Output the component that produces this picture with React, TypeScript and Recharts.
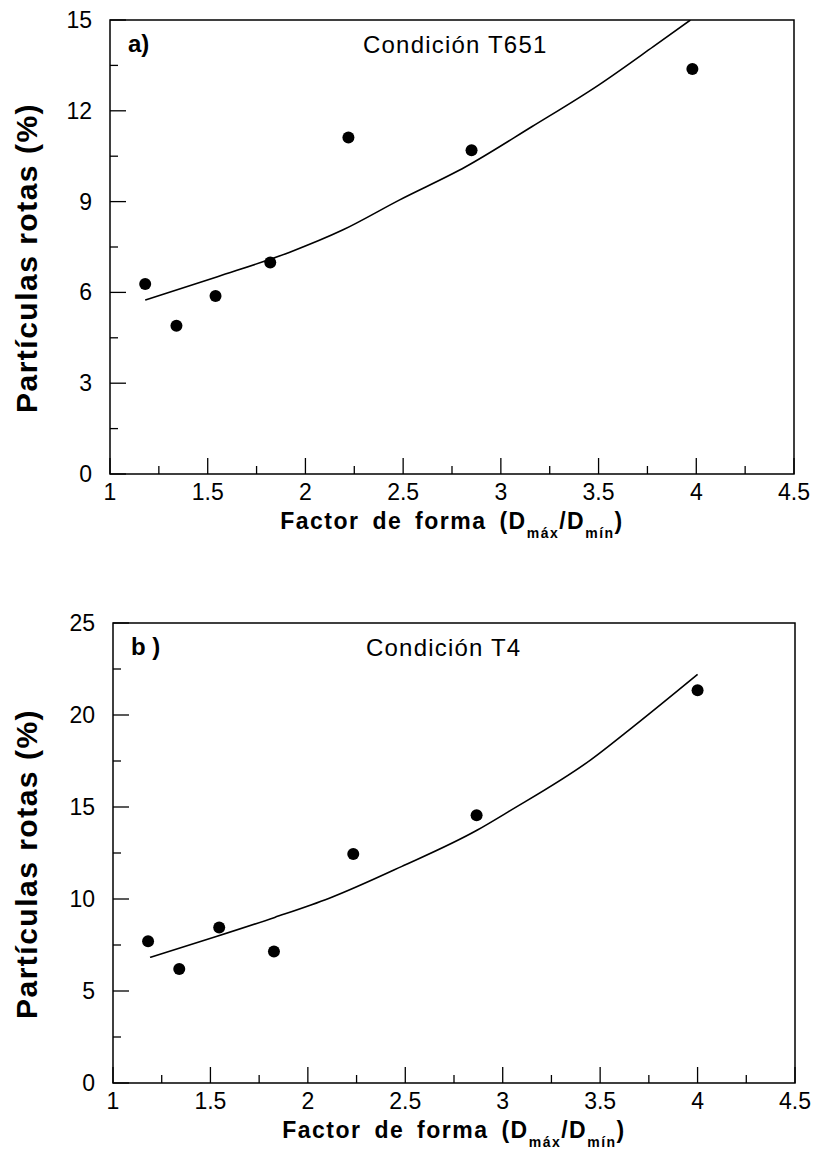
import React from "react";
import { ScatterChart, Scatter, XAxis, YAxis, ReferenceArea } from "recharts";

// Condición T651 (panel a)
const T651_X = [1.18, 1.34, 1.54, 1.82, 2.22, 2.85, 3.98];
const T651_Y = [6.28, 4.9, 5.88, 6.99, 11.12, 10.7, 13.38];
const T651_FIT_X = [1.18, 1.55, 1.92, 2.19, 2.48, 2.82, 3.16, 3.5, 3.78, 3.97];
const T651_FIT_Y = [5.75, 6.52, 7.33, 8.06, 9.05, 10.15, 11.48, 12.85, 14.12, 15.0];

// Condición T4 (panel b)
const T4_X = [1.18, 1.34, 1.545, 1.826, 2.233, 2.866, 4.0];
const T4_Y = [7.7, 6.2, 8.45, 7.15, 12.45, 14.55, 21.35];
const T4_FIT_X = [1.19, 1.53, 1.83, 2.11, 2.48, 2.87, 3.03, 3.45, 3.67, 4.0];
const T4_FIT_Y = [6.83, 7.96, 9.0, 10.04, 11.76, 13.75, 14.75, 17.55, 19.37, 22.21];

const X_TICKS = [1, 1.25, 1.5, 1.75, 2, 2.25, 2.5, 2.75, 3, 3.25, 3.5, 3.75, 4, 4.25, 4.5];
const X_LABELS = ["1", "1.5", "2", "2.5", "3", "3.5", "4", "4.5"];
const Y_TICKS_A = [0, 1.5, 3, 4.5, 6, 7.5, 9, 10.5, 12, 13.5, 15];
const Y_LABELS_A = ["0", "3", "6", "9", "12", "15"];
const Y_TICKS_B = [0, 2.5, 5, 7.5, 10, 12.5, 15, 17.5, 20, 22.5, 25];
const Y_LABELS_B = ["0", "5", "10", "15", "20", "25"];

const FONT = "'Liberation Sans', Arial, Helvetica, sans-serif";

const toPoints = (xs: number[], ys: number[]) => xs.map((x, i) => ({ x, y: ys[i] }));

function XTick(props: any) {
  const { x, y, payload } = props;
  const label = X_LABELS.includes(String(payload.value));
  return (
    <g>
      <line x1={x} x2={x} y1={y} y2={y - (label ? 16 : 8)} stroke="#000" strokeWidth={1.3} />
      {label && (
        <text x={x} y={y + 26} textAnchor="middle" fontSize={23} fontFamily={FONT} fill="#000">
          {payload.value}
        </text>
      )}
    </g>
  );
}

function makeYTick(labels: string[]) {
  return (props: any) => {
    const { x, y, payload } = props;
    const label = labels.includes(String(payload.value));
    return (
      <g>
        <line x1={x} x2={x + (label ? 16 : 8)} y1={y} y2={y} stroke="#000" strokeWidth={1.3} />
        {label && (
          <text x={x - 18} y={y + 8} textAnchor="end" fontSize={23} fontFamily={FONT} fill="#000">
            {payload.value}
          </text>
        )}
      </g>
    );
  };
}

function XTitle(props: any) {
  const { x, y, width } = props.viewBox;
  return (
    <text
      x={x + width / 2}
      y={y + 55}
      textAnchor="middle"
      fontSize={23}
      fontWeight="bold"
      fontFamily={FONT}
      letterSpacing={1.5}
      wordSpacing={5}
      fill="#000"
    >
      Factor de forma (D
      <tspan fontSize={14} dy={9}>máx</tspan>
      <tspan fontSize={23} dy={-9}>/D</tspan>
      <tspan fontSize={14} dy={9}>mín</tspan>
      <tspan fontSize={23} dy={-9}>)</tspan>
    </text>
  );
}

function YTitle(props: any) {
  const { y, height } = props.viewBox;
  const cy = y + height / 2 + 11;
  return (
    <text
      x={26}
      y={cy}
      transform={`rotate(-90, 26, ${cy})`}
      textAnchor="middle"
      dominantBaseline="central"
      fontSize={30}
      fontWeight="bold"
      fontFamily={FONT}
      letterSpacing={1.5}
      fill="#000"
    >
      Partículas rotas (%)
    </text>
  );
}

function Dot(props: any) {
  const { cx, cy } = props;
  return <circle cx={cx} cy={cy} r={6} fill="#000" />;
}

function Panel(props: {
  tag: string;
  title: string;
  points: { x: number; y: number }[];
  fit: { x: number; y: number }[];
  yMax: number;
  yTicks: number[];
  yLabels: string[];
  height: number;
  margin: { top: number; right: number; bottom: number; left: number };
  yWidth: number;
}) {
  const { tag, title, points, fit, yMax, yTicks, yLabels, height, margin, yWidth } = props;
  const panelText = (p: any) => {
    const { x, y } = p.viewBox;
    return (
      <g fontFamily={FONT} fill="#000">
        <text x={x + 18} y={y + 32} fontSize={24} fontWeight="bold" style={{ whiteSpace: "pre" }}>
          {tag}
        </text>
        <text x={x + 253} y={y + 33} fontSize={24} letterSpacing={1.2}>
          {title}
        </text>
      </g>
    );
  };
  return (
    <ScatterChart width={821} height={height} margin={margin}>
      <XAxis
        type="number"
        dataKey="x"
        domain={[1, 4.5]}
        ticks={X_TICKS}
        interval={0}
        tickSize={0}
        tickMargin={0}
        axisLine={false}
        tickLine={false}
        tick={(p: any) => <XTick {...p} />}
        height={60}
        label={(p: any) => <XTitle {...p} />}
      />
      <YAxis
        type="number"
        dataKey="y"
        domain={[0, yMax]}
        allowDataOverflow
        ticks={yTicks}
        interval={0}
        tickSize={0}
        tickMargin={0}
        axisLine={false}
        tickLine={false}
        tick={makeYTick(yLabels)}
        width={yWidth}
        label={(p: any) => <YTitle {...p} />}
      />
      <ReferenceArea
        x1={1}
        x2={4.5}
        y1={0}
        y2={yMax}
        fill="none"
        fillOpacity={0}
        stroke="#000"
        strokeWidth={1.5}
        label={panelText}
      />
      <Scatter
        data={fit}
        line={{ stroke: "#000", strokeWidth: 1.6 }}
        lineJointType="monotoneX"
        shape={() => <g />}
        isAnimationActive={false}
      />
      <Scatter data={points} fill="#000" shape={(p: any) => <Dot {...p} />} isAnimationActive={false} />
    </ScatterChart>
  );
}

export default function App() {
  return (
    <div style={{ position: "absolute", left: 0, top: 0, width: 821, height: 1162, background: "#fff" }}>
      <Panel
        tag="a)"
        title="Condición T651"
        points={toPoints(T651_X, T651_Y)}
        fit={toPoints(T651_FIT_X, T651_FIT_Y)}
        yMax={15}
        yTicks={Y_TICKS_A}
        yLabels={Y_LABELS_A}
        height={560}
        margin={{ top: 20, right: 27, bottom: 26, left: 0 }}
        yWidth={110}
      />
      <Panel
        tag="b )"
        title="Condición T4"
        points={toPoints(T4_X, T4_Y)}
        fit={toPoints(T4_FIT_X, T4_FIT_Y)}
        yMax={25}
        yTicks={Y_TICKS_B}
        yLabels={Y_LABELS_B}
        height={602}
        margin={{ top: 63, right: 26, bottom: 19, left: 0 }}
        yWidth={113}
      />
    </div>
  );
}
